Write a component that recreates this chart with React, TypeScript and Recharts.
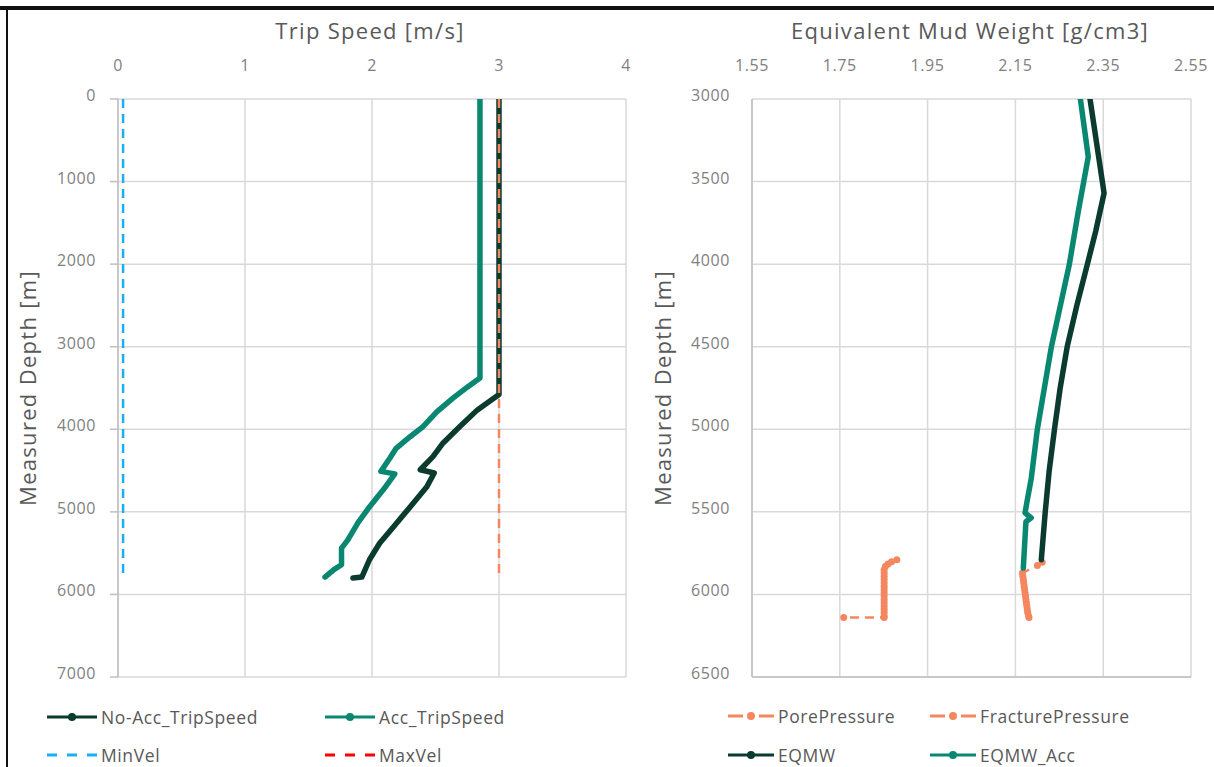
import React from 'react';
import { ScatterChart, Scatter, XAxis, YAxis, CartesianGrid, ReferenceLine } from 'recharts';

// ---------- Left chart data (Trip Speed vs Measured Depth) ----------
const speedTicks = [0, 1, 2, 3, 4];
const depthTicks = [0, 1000, 2000, 3000, 4000, 5000, 6000, 7000];

const noAccDepth = [0, 3580, 3765, 3970, 4165, 4330, 4490, 4530, 4700, 4940, 5180, 5380, 5580, 5790, 5800];
const noAccSpeed = [3.0, 3.0, 2.83, 2.69, 2.56, 2.48, 2.38, 2.49, 2.43, 2.30, 2.17, 2.06, 1.98, 1.92, 1.85];

const accDepth = [0, 3380, 3490, 3620, 3790, 3970, 4090, 4230, 4350, 4510, 4540, 4730, 4940, 5130, 5340, 5440, 5640, 5700, 5790];
const accSpeed = [2.85, 2.85, 2.75, 2.64, 2.51, 2.40, 2.30, 2.19, 2.14, 2.07, 2.18, 2.09, 1.98, 1.89, 1.81, 1.76, 1.76, 1.70, 1.63];

const minVelDepth = [0, 5800];
const minVelSpeed = [0.04, 0.04];
const maxVelDepth = [0, 5800];
const maxVelSpeed = [3.0, 3.0];

// ---------- Right chart data (Equivalent Mud Weight vs Measured Depth) ----------
const emwTicks = [1.55, 1.75, 1.95, 2.15, 2.35, 2.55];
const depthTicks2 = [3000, 3500, 4000, 4500, 5000, 5500, 6000, 6500];

const eqmwDepth = [3000, 3570, 3800, 4000, 4250, 4500, 4750, 5000, 5250, 5500, 5790];
const eqmwValue = [2.320, 2.352, 2.333, 2.314, 2.290, 2.268, 2.252, 2.239, 2.227, 2.218, 2.209];

const eqmwAccDepth = [3000, 3350, 3700, 4000, 4500, 5000, 5300, 5445, 5506, 5536, 5560, 5840];
const eqmwAccValue = [2.298, 2.316, 2.292, 2.273, 2.232, 2.200, 2.186, 2.176, 2.172, 2.186, 2.174, 2.168];

const poreDepth = [5790, 5802, 5815, 5830, 5850, 5870, 5890, 5910, 5930, 5950, 5970, 5990, 6010, 6030, 6050, 6070, 6090, 6110, 6130, 6140, 6140];
const poreValue = [1.880, 1.868, 1.860, 1.854, 1.851, 1.851, 1.851, 1.851, 1.851, 1.851, 1.851, 1.851, 1.851, 1.851, 1.851, 1.851, 1.851, 1.851, 1.851, 1.851, 1.759];

const fracDepth = [5805, 5825, 5870, 5890, 5910, 5930, 5950, 5970, 5990, 6010, 6030, 6050, 6070, 6090, 6110, 6130, 6140];
const fracValue = [2.211, 2.200, 2.166, 2.167, 2.168, 2.169, 2.170, 2.171, 2.172, 2.173, 2.174, 2.175, 2.176, 2.177, 2.178, 2.180, 2.181];

// ---------- styles ----------
const DARK = '#0B3B2E';
const TEAL = '#0A8770';
const SALMON = '#F4875F';
const BLUE = '#1AAFEF';
const RED = '#FF0000';
const GRID = '#D9D9D9';
const AXIS = '#BFBFBF';
const TICK_COLOR = '#7F7F7F';
const TITLE_COLOR = '#595959';
const FONT = '"Open Sans", sans-serif';

const toPoints = (xs: number[], ys: number[]) => xs.map((x, i) => ({ x, y: ys[i] }));

const noDot = () => <g />;
const dotShape = (color: string) => (p: any) => (
  <circle cx={p.cx} cy={p.cy} r={3.5} fill={color} stroke="none" />
);

const XTick = (digits: number) => (props: any) => {
  const { x, y, payload } = props;
  return (
    <text x={x} y={y} textAnchor="middle" dominantBaseline="central" fill={TICK_COLOR} fontSize={16} letterSpacing={0.6} fontFamily={FONT}>
      {digits > 0 ? Number(payload.value).toFixed(digits) : String(payload.value)}
    </text>
  );
};

const YTick = (props: any) => {
  const { x, y, payload } = props;
  return (
    <text x={x} y={y - 4} textAnchor="end" dominantBaseline="central" fill={TICK_COLOR} fontSize={16} letterSpacing={0.6} fontFamily={FONT}>
      {String(payload.value)}
    </text>
  );
};

const solidLine = (color: string) => ({ stroke: color, strokeWidth: 5.5, strokeLinejoin: 'round', strokeLinecap: 'round' });
const dashLine = (color: string) => ({ stroke: color, strokeWidth: 2.5, strokeDasharray: '9 6' });

type LegendKind = 'solidDot' | 'dash' | 'dashDot';
const LegendIcon = ({ kind, color, width }: { kind: LegendKind; color: string; width: number }) => {
  const h = 12;
  const cy = h / 2;
  if (kind === 'solidDot') {
    return (
      <svg width={width} height={h} style={{ display: 'block' }}>
        <line x1={0} y1={cy} x2={width} y2={cy} stroke={color} strokeWidth={3} />
        <circle cx={width / 2} cy={cy} r={4} fill={color} />
      </svg>
    );
  }
  if (kind === 'dash') {
    return (
      <svg width={width} height={h} style={{ display: 'block' }}>
        <line x1={0} y1={cy} x2={width} y2={cy} stroke={color} strokeWidth={3} strokeDasharray="10 10" />
      </svg>
    );
  }
  return (
    <svg width={width} height={h} style={{ display: 'block' }}>
      <line x1={0} y1={cy} x2={15} y2={cy} stroke={color} strokeWidth={3} />
      <circle cx={width / 2} cy={cy} r={4} fill={color} />
      <line x1={width - 15} y1={cy} x2={width} y2={cy} stroke={color} strokeWidth={3} />
    </svg>
  );
};

const LegendItem = ({ left, cy, kind, color, label, iconWidth }: any) => (
  <div style={{ position: 'absolute', left, top: cy - 12, display: 'flex', alignItems: 'center', height: 24 }}>
    <LegendIcon kind={kind} color={color} width={iconWidth} />
    <span style={{ marginLeft: 4, fontFamily: FONT, fontSize: 17.5, letterSpacing: 0.6, lineHeight: '20px', color: TITLE_COLOR, whiteSpace: 'nowrap' }}>{label}</span>
  </div>
);

const Title = ({ cx, cy, text, rotate }: any) => (
  <div
    style={{
      position: 'absolute',
      left: cx,
      top: cy,
      transform: `translate(-50%, -50%)${rotate ? ' rotate(-90deg)' : ''}`,
      fontFamily: FONT,
      fontSize: 22,
      letterSpacing: 1.3,
      color: TITLE_COLOR,
      whiteSpace: 'nowrap',
    }}
  >
    {text}
  </div>
);

export default function App() {
  return (
    <div style={{ position: 'absolute', left: 0, top: 0, width: 1214, height: 767, background: '#fff', overflow: 'hidden' }}>
      <div style={{ position: 'absolute', left: 0, top: 6, width: 1214, height: 4, background: '#111' }} />
      <div style={{ position: 'absolute', left: 6, top: 6, width: 2, height: 761, background: '#111' }} />

      {/* Left chart */}
      <div style={{ position: 'absolute', left: 0, top: 0 }}>
        <ScatterChart width={640} height={700} margin={{ top: 59, left: 58, right: 14, bottom: 23 }}>
          <CartesianGrid stroke={GRID} strokeWidth={1.5} horizontalValues={depthTicks} verticalValues={speedTicks} />
          <XAxis
            type="number"
            dataKey="x"
            orientation="top"
            domain={[0, 4]}
            ticks={speedTicks}
            height={40}
            axisLine={false}
            tickLine={false}
            tickSize={0}
            tickMargin={34}
            tick={XTick(0)}
            allowDataOverflow
          />
          <YAxis
            type="number"
            dataKey="y"
            reversed
            domain={[0, 7000]}
            ticks={depthTicks}
            width={60}
            axisLine={{ stroke: AXIS, strokeWidth: 1.5 }}
            tickLine={{ stroke: AXIS, strokeWidth: 1.5 }}
            tickSize={8}
            tickMargin={14}
            tick={YTick}
            allowDataOverflow
          />
          <Scatter data={toPoints(noAccSpeed, noAccDepth)} fill={DARK} line={solidLine(DARK)} shape={noDot} isAnimationActive={false} />
          <Scatter data={toPoints(accSpeed, accDepth)} fill={TEAL} line={solidLine(TEAL)} shape={noDot} isAnimationActive={false} />
          <Scatter data={toPoints(minVelSpeed, minVelDepth)} fill={BLUE} line={dashLine(BLUE)} shape={noDot} isAnimationActive={false} />
          <Scatter data={toPoints(maxVelSpeed, maxVelDepth)} fill={SALMON} line={dashLine(SALMON)} shape={noDot} isAnimationActive={false} />
        </ScatterChart>
      </div>

      {/* Right chart */}
      <div style={{ position: 'absolute', left: 640, top: 0 }}>
        <ScatterChart width={574} height={700} margin={{ top: 59, left: 52, right: 23, bottom: 23 }}>
          <CartesianGrid stroke={GRID} strokeWidth={1.5} horizontalValues={depthTicks2} verticalValues={emwTicks} />
          <XAxis
            type="number"
            dataKey="x"
            orientation="top"
            domain={[1.55, 2.55]}
            ticks={emwTicks}
            height={40}
            axisLine={false}
            tickLine={false}
            tickSize={0}
            tickMargin={34}
            tick={XTick(2)}
            allowDataOverflow
          />
          <YAxis
            type="number"
            dataKey="y"
            reversed
            domain={[3000, 6500]}
            ticks={depthTicks2}
            width={60}
            axisLine={{ stroke: AXIS, strokeWidth: 1.5 }}
            tickLine={false}
            tickSize={0}
            tickMargin={22}
            tick={YTick}
            allowDataOverflow
          />
          <ReferenceLine y={6500} stroke={AXIS} strokeWidth={1.5} />
          <Scatter data={toPoints(poreValue, poreDepth)} fill={SALMON} line={dashLine(SALMON)} shape={dotShape(SALMON)} isAnimationActive={false} />
          <Scatter data={toPoints(fracValue, fracDepth)} fill={SALMON} line={dashLine(SALMON)} shape={dotShape(SALMON)} isAnimationActive={false} />
          <Scatter data={toPoints(eqmwValue, eqmwDepth)} fill={DARK} line={solidLine(DARK)} shape={noDot} isAnimationActive={false} />
          <Scatter data={toPoints(eqmwAccValue, eqmwAccDepth)} fill={TEAL} line={solidLine(TEAL)} shape={noDot} isAnimationActive={false} />
        </ScatterChart>
      </div>

      {/* Titles */}
      <Title cx={370} cy={30} text="Trip Speed [m/s]" />
      <Title cx={970} cy={30} text="Equivalent Mud Weight [g/cm3]" />
      <Title cx={27} cy={388} text="Measured Depth [m]" rotate />
      <Title cx={662} cy={388} text="Measured Depth [m]" rotate />

      {/* Legends */}
      <LegendItem left={47} cy={717} kind="solidDot" color={DARK} label="No-Acc_TripSpeed" iconWidth={50} />
      <LegendItem left={325} cy={717} kind="solidDot" color={TEAL} label="Acc_TripSpeed" iconWidth={50} />
      <LegendItem left={47} cy={755} kind="dash" color={BLUE} label="MinVel" iconWidth={50} />
      <LegendItem left={325} cy={755} kind="dash" color={RED} label="MaxVel" iconWidth={50} />

      <LegendItem left={728} cy={716} kind="dashDot" color={SALMON} label="PorePressure" iconWidth={46} />
      <LegendItem left={930} cy={716} kind="dashDot" color={SALMON} label="FracturePressure" iconWidth={46} />
      <LegendItem left={728} cy={755} kind="solidDot" color={DARK} label="EQMW" iconWidth={46} />
      <LegendItem left={930} cy={755} kind="solidDot" color={TEAL} label="EQMW_Acc" iconWidth={46} />
    </div>
  );
}
